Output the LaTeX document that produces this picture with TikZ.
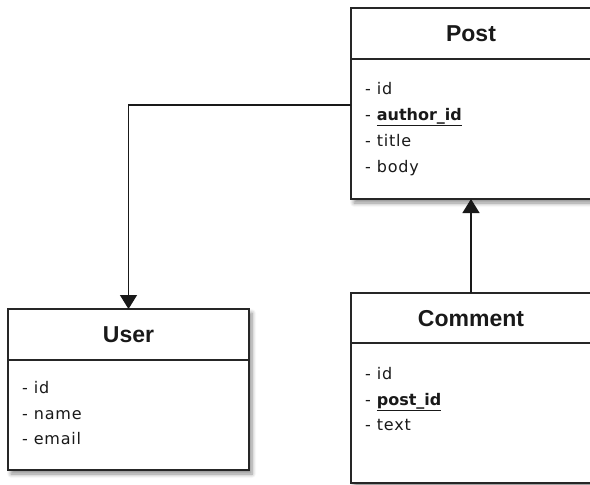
\documentclass[tikz,border=0pt]{standalone}
\usepackage{fontspec}
\setmainfont{DejaVu Sans}[LetterSpace=5,BoldFeatures={LetterSpace=0}]
\newfontfamily\titlefont{Liberation Sans}
\usetikzlibrary{arrows.meta,shadows.blur}
\tikzset{
  box/.style={draw=black!85, line width=1.3pt, fill=white,
    blur shadow={shadow xshift=3pt, shadow yshift=-4pt, shadow blur steps=6, shadow blur radius=4pt, shadow opacity=45}},
  sep/.style={draw=black!85, line width=1.3pt},
  ttl/.style={font=\titlefont\fontsize{23}{26}\selectfont\bfseries, text=black!90, inner sep=0pt},
  attr/.style={font=\fontsize{16}{18}\selectfont, text=black!90, anchor=west, inner sep=0pt, text height=11pt, text depth=4pt},
  conn/.style={draw=black!90, line width=1.3pt, -{Triangle[width=17pt,length=14pt]}}
}
\begin{document}
\begin{tikzpicture}[x=1pt,y=-1pt]
\useasboundingbox (0,0) rectangle (590,485);
% Post
\path[box] (351,8) rectangle (591,199);
\coordinate (postw) at (351,105);
\coordinate (posts) at (471,199);
\draw[sep] (351,59) -- (591,59);
\node[ttl] (posttitle) at (471,34) {Post};
\node[attr] (p1) at (365,91) {- id};
\node[attr] (p2) at (365,117) {- \underline{\textbf{author\_id}}};
\node[attr] (p3) at (365,143) {- title};
\node[attr] (p4) at (365,169) {- body};
% User
\path[box] (8,309) rectangle (249,470);
\coordinate (usern) at (128.5,309);
\draw[sep] (8,360) -- (249,360);
\node[ttl] (usertitle) at (128.5,335) {User};
\node[attr] (u1) at (22,390) {- id};
\node[attr] (u2) at (22,416) {- name};
\node[attr] (u3) at (22,441) {- email};
% Comment
\path[box] (351,293) rectangle (591,483);
\coordinate (commn) at (471,293);
\draw[sep] (351,343) -- (591,343);
\node[ttl] (commtitle) at (471,319) {Comment};
\node[attr] (c1) at (365,376) {- id};
\node[attr] (c2) at (365,402) {- \underline{\textbf{post\_id}}};
\node[attr] (c3) at (365,427) {- text};
% connectors
\draw[conn] (postw) -| (usern);
\draw[conn] (commn) -- (posts);
\end{tikzpicture}
\end{document}
